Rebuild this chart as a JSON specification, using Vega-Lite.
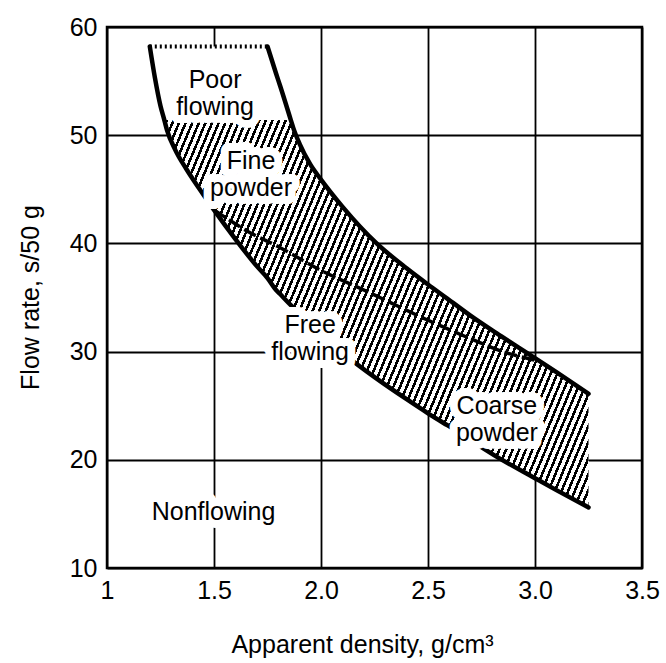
{
  "$schema": "https://vega.github.io/schema/vega-lite/v6.json",
  "width": 535,
  "height": 541,
  "autosize": "none",
  "padding": {"left": 107, "top": 27, "right": 24, "bottom": 95},
  "background": "white",
  "config": {
    "view": {"stroke": "black", "strokeWidth": 2.5},
    "font": "Liberation Sans"
  },
  "datasets": {
    "band": [
      {"x": 1.2, "lo": 58.2, "hi": 58.2, "hh": 58.2},
      {"x": 1.224, "lo": 55.3, "hi": 58.2, "hh": 55.3},
      {"x": 1.25, "lo": 52.7, "hi": 58.2, "hh": 52.7},
      {"x": 1.268, "lo": 51.4, "hi": 58.2, "hh": 51.4},
      {"x": 1.28, "lo": 50.5, "hi": 58.2, "hh": 51.4},
      {"x": 1.32, "lo": 48.6, "hi": 58.2, "hh": 51.4},
      {"x": 1.37, "lo": 46.9, "hi": 58.2, "hh": 51.4},
      {"x": 1.43, "lo": 45.1, "hi": 58.2, "hh": 51.4},
      {"x": 1.5, "lo": 43.1, "hi": 58.2, "hh": 51.4},
      {"x": 1.6, "lo": 40.4, "hi": 58.2, "hh": 51.4},
      {"x": 1.7, "lo": 37.9, "hi": 58.2, "hh": 51.4},
      {"x": 1.75, "lo": 36.8, "hi": 58.2, "hh": 51.4},
      {"x": 1.79, "lo": 35.7, "hi": 55.7, "hh": 51.4},
      {"x": 1.81, "lo": 35.3, "hi": 54.5, "hh": 51.4},
      {"x": 1.859, "lo": 34.3, "hi": 51.4, "hh": 51.4},
      {"x": 1.87, "lo": 34.1, "hi": 50.7, "hh": 50.7},
      {"x": 1.9, "lo": 33.5, "hi": 49.2, "hh": 49.2},
      {"x": 1.95, "lo": 32.5, "hi": 47.3, "hh": 47.3},
      {"x": 2.0, "lo": 31.6, "hi": 45.9, "hh": 45.9},
      {"x": 2.1, "lo": 29.9, "hi": 43.4, "hh": 43.4},
      {"x": 2.26, "lo": 27.5, "hi": 40.0, "hh": 40.0},
      {"x": 2.4, "lo": 25.6, "hi": 37.7, "hh": 37.7},
      {"x": 2.5, "lo": 24.3, "hi": 36.2, "hh": 36.2},
      {"x": 2.59, "lo": 23.2, "hi": 34.9, "hh": 34.9},
      {"x": 2.7, "lo": 21.8, "hi": 33.3, "hh": 33.3},
      {"x": 2.82, "lo": 20.3, "hi": 31.7, "hh": 31.7},
      {"x": 3.0, "lo": 18.3, "hi": 29.4, "hh": 29.4},
      {"x": 3.1, "lo": 17.2, "hi": 28.1, "hh": 28.1},
      {"x": 3.25, "lo": 15.6, "hi": 26.1, "hh": 26.1}
    ],
    "divider": [
      {"x": 1.5, "y": 43.1},
      {"x": 1.65, "y": 41.2},
      {"x": 1.81, "y": 39.6},
      {"x": 2.0, "y": 37.5},
      {"x": 2.21, "y": 35.6},
      {"x": 2.5, "y": 32.9},
      {"x": 2.71, "y": 31.1},
      {"x": 2.85, "y": 30.0},
      {"x": 3.0, "y": 29.2}
    ],
    "labels": [
      {"x": 1.505, "y": 55.1, "label": "Poor\nflowing"},
      {"x": 1.673, "y": 47.6, "label": "Fine\npowder"},
      {"x": 1.949, "y": 32.5, "label": "Free\nflowing"},
      {"x": 2.822, "y": 25.0, "label": "Coarse\npowder"},
      {"x": 1.498, "y": 15.2, "label": "Nonflowing"}
    ]
  },
  "layer": [
    {
      "data": {"name": "band"},
      "mark": {"type": "area", "fill": "white", "interpolate": "monotone"},
      "encoding": {
        "x": {
          "field": "x", "type": "quantitative", "title": "Apparent density, g/cm³",
          "scale": {"domain": [1, 3.5], "nice": false, "zero": false},
          "axis": {
            "values": [1, 1.5, 2, 2.5, 3, 3.5],
            "labelExpr": "datum.value == 1 ? '1' : format(datum.value, '.1f')",
            "grid": true, "gridColor": "black", "gridWidth": 1.8, "gridOpacity": 1,
            "ticks": false, "domain": false, "labelFlush": false, "labelOverlap": false, "labelBound": false,
            "labelPadding": 10, "labelFontSize": 25, "labelColor": "black", "labelFont": "Liberation Sans",
            "titleFontSize": 25, "titleFontWeight": "normal", "titleColor": "black", "titleFont": "Liberation Sans",
            "titleX": 255, "titleY": 76, "titleBaseline": "middle", "titleAlign": "center"
          }
        },
        "y": {
          "field": "lo", "type": "quantitative", "title": "Flow rate, s/50 g",
          "scale": {"domain": [10, 60], "nice": false, "zero": false},
          "axis": {
            "values": [10, 20, 30, 40, 50, 60],
            "grid": true, "gridColor": "black", "gridWidth": 1.8, "gridOpacity": 1,
            "ticks": false, "domain": false, "labelFlush": false, "labelOverlap": false, "labelBound": false,
            "labelPadding": 10, "labelFontSize": 25, "labelColor": "black", "labelFont": "Liberation Sans",
            "titleFontSize": 25, "titleFontWeight": "normal", "titleColor": "black", "titleFont": "Liberation Sans",
            "titleX": -77, "titleY": 270, "titleBaseline": "middle", "titleAlign": "center", "titleAngle": -90
          }
        },
        "y2": {"field": "hi"}
      }
    },
    {
      "data": {"name": "band"},
      "mark": {
        "type": "area", "interpolate": "monotone",
        "fill": {
          "gradient": "linear", "x1": 0, "y1": 0, "x2": 1.266, "y2": 0.55,
          "stops": [
{"offset":0,"color":"#000"},{"offset":0.0042,"color":"#000"},{"offset":0.0042,"color":"#fff"},{"offset":0.01,"color":"#fff"},
{"offset":0.01,"color":"#000"},{"offset":0.0142,"color":"#000"},{"offset":0.0142,"color":"#fff"},{"offset":0.02,"color":"#fff"},
{"offset":0.02,"color":"#000"},{"offset":0.0242,"color":"#000"},{"offset":0.0242,"color":"#fff"},{"offset":0.03,"color":"#fff"},
{"offset":0.03,"color":"#000"},{"offset":0.0342,"color":"#000"},{"offset":0.0342,"color":"#fff"},{"offset":0.04,"color":"#fff"},
{"offset":0.04,"color":"#000"},{"offset":0.0442,"color":"#000"},{"offset":0.0442,"color":"#fff"},{"offset":0.05,"color":"#fff"},
{"offset":0.05,"color":"#000"},{"offset":0.0542,"color":"#000"},{"offset":0.0542,"color":"#fff"},{"offset":0.06,"color":"#fff"},
{"offset":0.06,"color":"#000"},{"offset":0.0642,"color":"#000"},{"offset":0.0642,"color":"#fff"},{"offset":0.07,"color":"#fff"},
{"offset":0.07,"color":"#000"},{"offset":0.0742,"color":"#000"},{"offset":0.0742,"color":"#fff"},{"offset":0.08,"color":"#fff"},
{"offset":0.08,"color":"#000"},{"offset":0.0842,"color":"#000"},{"offset":0.0842,"color":"#fff"},{"offset":0.09,"color":"#fff"},
{"offset":0.09,"color":"#000"},{"offset":0.0942,"color":"#000"},{"offset":0.0942,"color":"#fff"},{"offset":0.10,"color":"#fff"},
{"offset":0.10,"color":"#000"},{"offset":0.1042,"color":"#000"},{"offset":0.1042,"color":"#fff"},{"offset":0.11,"color":"#fff"},
{"offset":0.11,"color":"#000"},{"offset":0.1142,"color":"#000"},{"offset":0.1142,"color":"#fff"},{"offset":0.12,"color":"#fff"},
{"offset":0.12,"color":"#000"},{"offset":0.1242,"color":"#000"},{"offset":0.1242,"color":"#fff"},{"offset":0.13,"color":"#fff"},
{"offset":0.13,"color":"#000"},{"offset":0.1342,"color":"#000"},{"offset":0.1342,"color":"#fff"},{"offset":0.14,"color":"#fff"},
{"offset":0.14,"color":"#000"},{"offset":0.1442,"color":"#000"},{"offset":0.1442,"color":"#fff"},{"offset":0.15,"color":"#fff"},
{"offset":0.15,"color":"#000"},{"offset":0.1542,"color":"#000"},{"offset":0.1542,"color":"#fff"},{"offset":0.16,"color":"#fff"},
{"offset":0.16,"color":"#000"},{"offset":0.1642,"color":"#000"},{"offset":0.1642,"color":"#fff"},{"offset":0.17,"color":"#fff"},
{"offset":0.17,"color":"#000"},{"offset":0.1742,"color":"#000"},{"offset":0.1742,"color":"#fff"},{"offset":0.18,"color":"#fff"},
{"offset":0.18,"color":"#000"},{"offset":0.1842,"color":"#000"},{"offset":0.1842,"color":"#fff"},{"offset":0.19,"color":"#fff"},
{"offset":0.19,"color":"#000"},{"offset":0.1942,"color":"#000"},{"offset":0.1942,"color":"#fff"},{"offset":0.20,"color":"#fff"},
{"offset":0.20,"color":"#000"},{"offset":0.2042,"color":"#000"},{"offset":0.2042,"color":"#fff"},{"offset":0.21,"color":"#fff"},
{"offset":0.21,"color":"#000"},{"offset":0.2142,"color":"#000"},{"offset":0.2142,"color":"#fff"},{"offset":0.22,"color":"#fff"},
{"offset":0.22,"color":"#000"},{"offset":0.2242,"color":"#000"},{"offset":0.2242,"color":"#fff"},{"offset":0.23,"color":"#fff"},
{"offset":0.23,"color":"#000"},{"offset":0.2342,"color":"#000"},{"offset":0.2342,"color":"#fff"},{"offset":0.24,"color":"#fff"},
{"offset":0.24,"color":"#000"},{"offset":0.2442,"color":"#000"},{"offset":0.2442,"color":"#fff"},{"offset":0.25,"color":"#fff"},
{"offset":0.25,"color":"#000"},{"offset":0.2542,"color":"#000"},{"offset":0.2542,"color":"#fff"},{"offset":0.26,"color":"#fff"},
{"offset":0.26,"color":"#000"},{"offset":0.2642,"color":"#000"},{"offset":0.2642,"color":"#fff"},{"offset":0.27,"color":"#fff"},
{"offset":0.27,"color":"#000"},{"offset":0.2742,"color":"#000"},{"offset":0.2742,"color":"#fff"},{"offset":0.28,"color":"#fff"},
{"offset":0.28,"color":"#000"},{"offset":0.2842,"color":"#000"},{"offset":0.2842,"color":"#fff"},{"offset":0.29,"color":"#fff"},
{"offset":0.29,"color":"#000"},{"offset":0.2942,"color":"#000"},{"offset":0.2942,"color":"#fff"},{"offset":0.30,"color":"#fff"},
{"offset":0.30,"color":"#000"},{"offset":0.3042,"color":"#000"},{"offset":0.3042,"color":"#fff"},{"offset":0.31,"color":"#fff"},
{"offset":0.31,"color":"#000"},{"offset":0.3142,"color":"#000"},{"offset":0.3142,"color":"#fff"},{"offset":0.32,"color":"#fff"},
{"offset":0.32,"color":"#000"},{"offset":0.3242,"color":"#000"},{"offset":0.3242,"color":"#fff"},{"offset":0.33,"color":"#fff"},
{"offset":0.33,"color":"#000"},{"offset":0.3342,"color":"#000"},{"offset":0.3342,"color":"#fff"},{"offset":0.34,"color":"#fff"},
{"offset":0.34,"color":"#000"},{"offset":0.3442,"color":"#000"},{"offset":0.3442,"color":"#fff"},{"offset":0.35,"color":"#fff"},
{"offset":0.35,"color":"#000"},{"offset":0.3542,"color":"#000"},{"offset":0.3542,"color":"#fff"},{"offset":0.36,"color":"#fff"},
{"offset":0.36,"color":"#000"},{"offset":0.3642,"color":"#000"},{"offset":0.3642,"color":"#fff"},{"offset":0.37,"color":"#fff"},
{"offset":0.37,"color":"#000"},{"offset":0.3742,"color":"#000"},{"offset":0.3742,"color":"#fff"},{"offset":0.38,"color":"#fff"},
{"offset":0.38,"color":"#000"},{"offset":0.3842,"color":"#000"},{"offset":0.3842,"color":"#fff"},{"offset":0.39,"color":"#fff"},
{"offset":0.39,"color":"#000"},{"offset":0.3942,"color":"#000"},{"offset":0.3942,"color":"#fff"},{"offset":0.40,"color":"#fff"},
{"offset":0.40,"color":"#000"},{"offset":0.4042,"color":"#000"},{"offset":0.4042,"color":"#fff"},{"offset":0.41,"color":"#fff"},
{"offset":0.41,"color":"#000"},{"offset":0.4142,"color":"#000"},{"offset":0.4142,"color":"#fff"},{"offset":0.42,"color":"#fff"},
{"offset":0.42,"color":"#000"},{"offset":0.4242,"color":"#000"},{"offset":0.4242,"color":"#fff"},{"offset":0.43,"color":"#fff"},
{"offset":0.43,"color":"#000"},{"offset":0.4342,"color":"#000"},{"offset":0.4342,"color":"#fff"},{"offset":0.44,"color":"#fff"},
{"offset":0.44,"color":"#000"},{"offset":0.4442,"color":"#000"},{"offset":0.4442,"color":"#fff"},{"offset":0.45,"color":"#fff"},
{"offset":0.45,"color":"#000"},{"offset":0.4542,"color":"#000"},{"offset":0.4542,"color":"#fff"},{"offset":0.46,"color":"#fff"},
{"offset":0.46,"color":"#000"},{"offset":0.4642,"color":"#000"},{"offset":0.4642,"color":"#fff"},{"offset":0.47,"color":"#fff"},
{"offset":0.47,"color":"#000"},{"offset":0.4742,"color":"#000"},{"offset":0.4742,"color":"#fff"},{"offset":0.48,"color":"#fff"},
{"offset":0.48,"color":"#000"},{"offset":0.4842,"color":"#000"},{"offset":0.4842,"color":"#fff"},{"offset":0.49,"color":"#fff"},
{"offset":0.49,"color":"#000"},{"offset":0.4942,"color":"#000"},{"offset":0.4942,"color":"#fff"},{"offset":0.50,"color":"#fff"},
{"offset":0.50,"color":"#000"},{"offset":0.5042,"color":"#000"},{"offset":0.5042,"color":"#fff"},{"offset":0.51,"color":"#fff"},
{"offset":0.51,"color":"#000"},{"offset":0.5142,"color":"#000"},{"offset":0.5142,"color":"#fff"},{"offset":0.52,"color":"#fff"},
{"offset":0.52,"color":"#000"},{"offset":0.5242,"color":"#000"},{"offset":0.5242,"color":"#fff"},{"offset":0.53,"color":"#fff"},
{"offset":0.53,"color":"#000"},{"offset":0.5342,"color":"#000"},{"offset":0.5342,"color":"#fff"},{"offset":0.54,"color":"#fff"},
{"offset":0.54,"color":"#000"},{"offset":0.5442,"color":"#000"},{"offset":0.5442,"color":"#fff"},{"offset":0.55,"color":"#fff"},
{"offset":0.55,"color":"#000"},{"offset":0.5542,"color":"#000"},{"offset":0.5542,"color":"#fff"},{"offset":0.56,"color":"#fff"},
{"offset":0.56,"color":"#000"},{"offset":0.5642,"color":"#000"},{"offset":0.5642,"color":"#fff"},{"offset":0.57,"color":"#fff"},
{"offset":0.57,"color":"#000"},{"offset":0.5742,"color":"#000"},{"offset":0.5742,"color":"#fff"},{"offset":0.58,"color":"#fff"},
{"offset":0.58,"color":"#000"},{"offset":0.5842,"color":"#000"},{"offset":0.5842,"color":"#fff"},{"offset":0.59,"color":"#fff"},
{"offset":0.59,"color":"#000"},{"offset":0.5942,"color":"#000"},{"offset":0.5942,"color":"#fff"},{"offset":0.60,"color":"#fff"},
{"offset":0.60,"color":"#000"},{"offset":0.6042,"color":"#000"},{"offset":0.6042,"color":"#fff"},{"offset":0.61,"color":"#fff"},
{"offset":0.61,"color":"#000"},{"offset":0.6142,"color":"#000"},{"offset":0.6142,"color":"#fff"},{"offset":0.62,"color":"#fff"},
{"offset":0.62,"color":"#000"},{"offset":0.6242,"color":"#000"},{"offset":0.6242,"color":"#fff"},{"offset":0.63,"color":"#fff"},
{"offset":0.63,"color":"#000"},{"offset":0.6342,"color":"#000"},{"offset":0.6342,"color":"#fff"},{"offset":0.64,"color":"#fff"},
{"offset":0.64,"color":"#000"},{"offset":0.6442,"color":"#000"},{"offset":0.6442,"color":"#fff"},{"offset":0.65,"color":"#fff"},
{"offset":0.65,"color":"#000"},{"offset":0.6542,"color":"#000"},{"offset":0.6542,"color":"#fff"},{"offset":0.66,"color":"#fff"},
{"offset":0.66,"color":"#000"},{"offset":0.6642,"color":"#000"},{"offset":0.6642,"color":"#fff"},{"offset":0.67,"color":"#fff"},
{"offset":0.67,"color":"#000"},{"offset":0.6742,"color":"#000"},{"offset":0.6742,"color":"#fff"},{"offset":0.68,"color":"#fff"},
{"offset":0.68,"color":"#000"},{"offset":0.6842,"color":"#000"},{"offset":0.6842,"color":"#fff"},{"offset":0.69,"color":"#fff"},
{"offset":0.69,"color":"#000"},{"offset":0.6942,"color":"#000"},{"offset":0.6942,"color":"#fff"},{"offset":0.70,"color":"#fff"},
{"offset":0.70,"color":"#000"},{"offset":0.7042,"color":"#000"},{"offset":0.7042,"color":"#fff"},{"offset":0.71,"color":"#fff"},
{"offset":0.71,"color":"#000"},{"offset":0.7142,"color":"#000"},{"offset":0.7142,"color":"#fff"},{"offset":0.72,"color":"#fff"},
{"offset":0.72,"color":"#000"},{"offset":0.7242,"color":"#000"},{"offset":0.7242,"color":"#fff"},{"offset":0.73,"color":"#fff"},
{"offset":0.73,"color":"#000"},{"offset":0.7342,"color":"#000"},{"offset":0.7342,"color":"#fff"},{"offset":0.74,"color":"#fff"},
{"offset":0.74,"color":"#000"},{"offset":0.7442,"color":"#000"},{"offset":0.7442,"color":"#fff"},{"offset":0.75,"color":"#fff"},
{"offset":0.75,"color":"#000"},{"offset":0.7542,"color":"#000"},{"offset":0.7542,"color":"#fff"},{"offset":0.76,"color":"#fff"},
{"offset":0.76,"color":"#000"},{"offset":0.7642,"color":"#000"},{"offset":0.7642,"color":"#fff"},{"offset":0.77,"color":"#fff"},
{"offset":0.77,"color":"#000"},{"offset":0.7742,"color":"#000"},{"offset":0.7742,"color":"#fff"},{"offset":0.78,"color":"#fff"},
{"offset":0.78,"color":"#000"},{"offset":0.7842,"color":"#000"},{"offset":0.7842,"color":"#fff"},{"offset":0.79,"color":"#fff"},
{"offset":0.79,"color":"#000"},{"offset":0.7942,"color":"#000"},{"offset":0.7942,"color":"#fff"},{"offset":0.80,"color":"#fff"},
{"offset":0.80,"color":"#000"},{"offset":0.8042,"color":"#000"},{"offset":0.8042,"color":"#fff"},{"offset":0.81,"color":"#fff"},
{"offset":0.81,"color":"#000"},{"offset":0.8142,"color":"#000"},{"offset":0.8142,"color":"#fff"},{"offset":0.82,"color":"#fff"},
{"offset":0.82,"color":"#000"},{"offset":0.8242,"color":"#000"},{"offset":0.8242,"color":"#fff"},{"offset":0.83,"color":"#fff"},
{"offset":0.83,"color":"#000"},{"offset":0.8342,"color":"#000"},{"offset":0.8342,"color":"#fff"},{"offset":0.84,"color":"#fff"},
{"offset":0.84,"color":"#000"},{"offset":0.8442,"color":"#000"},{"offset":0.8442,"color":"#fff"},{"offset":0.85,"color":"#fff"},
{"offset":0.85,"color":"#000"},{"offset":0.8542,"color":"#000"},{"offset":0.8542,"color":"#fff"},{"offset":0.86,"color":"#fff"},
{"offset":0.86,"color":"#000"},{"offset":0.8642,"color":"#000"},{"offset":0.8642,"color":"#fff"},{"offset":0.87,"color":"#fff"},
{"offset":0.87,"color":"#000"},{"offset":0.8742,"color":"#000"},{"offset":0.8742,"color":"#fff"},{"offset":0.88,"color":"#fff"},
{"offset":0.88,"color":"#000"},{"offset":0.8842,"color":"#000"},{"offset":0.8842,"color":"#fff"},{"offset":0.89,"color":"#fff"},
{"offset":0.89,"color":"#000"},{"offset":0.8942,"color":"#000"},{"offset":0.8942,"color":"#fff"},{"offset":0.90,"color":"#fff"},
{"offset":0.90,"color":"#000"},{"offset":0.9042,"color":"#000"},{"offset":0.9042,"color":"#fff"},{"offset":0.91,"color":"#fff"},
{"offset":0.91,"color":"#000"},{"offset":0.9142,"color":"#000"},{"offset":0.9142,"color":"#fff"},{"offset":0.92,"color":"#fff"},
{"offset":0.92,"color":"#000"},{"offset":0.9242,"color":"#000"},{"offset":0.9242,"color":"#fff"},{"offset":0.93,"color":"#fff"},
{"offset":0.93,"color":"#000"},{"offset":0.9342,"color":"#000"},{"offset":0.9342,"color":"#fff"},{"offset":0.94,"color":"#fff"},
{"offset":0.94,"color":"#000"},{"offset":0.9442,"color":"#000"},{"offset":0.9442,"color":"#fff"},{"offset":0.95,"color":"#fff"},
{"offset":0.95,"color":"#000"},{"offset":0.9542,"color":"#000"},{"offset":0.9542,"color":"#fff"},{"offset":0.96,"color":"#fff"},
{"offset":0.96,"color":"#000"},{"offset":0.9642,"color":"#000"},{"offset":0.9642,"color":"#fff"},{"offset":0.97,"color":"#fff"},
{"offset":0.97,"color":"#000"},{"offset":0.9742,"color":"#000"},{"offset":0.9742,"color":"#fff"},{"offset":0.98,"color":"#fff"},
{"offset":0.98,"color":"#000"},{"offset":0.9842,"color":"#000"},{"offset":0.9842,"color":"#fff"},{"offset":0.99,"color":"#fff"},
{"offset":0.99,"color":"#000"},{"offset":0.9942,"color":"#000"},{"offset":0.9942,"color":"#fff"},{"offset":1,"color":"#fff"}
          ]
        }
      },
      "encoding": {
        "x": {"field": "x", "type": "quantitative", "title": "Apparent density, g/cm³", "scale": {"domain": [1, 3.5], "nice": false, "zero": false}},
        "y": {"field": "lo", "type": "quantitative", "title": "Flow rate, s/50 g", "scale": {"domain": [10, 60], "nice": false, "zero": false}},
        "y2": {"field": "hh"}
      }
    },
    {
      "data": {"name": "band"},
      "mark": {"type": "line", "color": "black", "strokeWidth": 4.5, "interpolate": "monotone", "strokeCap": "round"},
      "encoding": {
        "x": {"field": "x", "type": "quantitative", "title": "Apparent density, g/cm³", "scale": {"domain": [1, 3.5], "nice": false, "zero": false}},
        "y": {"field": "lo", "type": "quantitative", "title": "Flow rate, s/50 g", "scale": {"domain": [10, 60], "nice": false, "zero": false}}
      }
    },
    {
      "data": {"name": "band"},
      "transform": [{"filter": "datum.x >= 1.75"}],
      "mark": {"type": "line", "color": "black", "strokeWidth": 4.5, "interpolate": "monotone", "strokeCap": "round"},
      "encoding": {
        "x": {"field": "x", "type": "quantitative", "title": "Apparent density, g/cm³", "scale": {"domain": [1, 3.5], "nice": false, "zero": false}},
        "y": {"field": "hi", "type": "quantitative", "title": "Flow rate, s/50 g", "scale": {"domain": [10, 60], "nice": false, "zero": false}}
      }
    },
    {
      "data": {"name": "band"},
      "transform": [{"filter": "datum.x <= 1.75"}],
      "mark": {"type": "line", "color": "black", "strokeWidth": 4, "strokeDash": [2, 3]},
      "encoding": {
        "x": {"field": "x", "type": "quantitative", "title": "Apparent density, g/cm³", "scale": {"domain": [1, 3.5], "nice": false, "zero": false}},
        "y": {"field": "hi", "type": "quantitative", "title": "Flow rate, s/50 g", "scale": {"domain": [10, 60], "nice": false, "zero": false}}
      }
    },
    {
      "data": {"name": "divider"},
      "mark": {"type": "line", "color": "black", "strokeWidth": 3.5, "strokeDash": [13, 5], "interpolate": "monotone"},
      "encoding": {
        "x": {"field": "x", "type": "quantitative", "title": "Apparent density, g/cm³", "scale": {"domain": [1, 3.5], "nice": false, "zero": false}},
        "y": {"field": "y", "type": "quantitative", "title": "Flow rate, s/50 g", "scale": {"domain": [10, 60], "nice": false, "zero": false}}
      }
    },
    {
      "data": {"name": "labels"},
      "mark": {"type": "text", "fontSize": 25, "font": "Liberation Sans", "align": "center", "baseline": "middle", "lineBreak": "\n", "lineHeight": 27, "fill": "white", "stroke": "white", "strokeWidth": 16, "strokeJoin": "round"},
      "encoding": {
        "x": {"field": "x", "type": "quantitative", "title": "Apparent density, g/cm³", "scale": {"domain": [1, 3.5], "nice": false, "zero": false}},
        "y": {"field": "y", "type": "quantitative", "title": "Flow rate, s/50 g", "scale": {"domain": [10, 60], "nice": false, "zero": false}},
        "text": {"field": "label"}
      }
    },
    {
      "data": {"name": "labels"},
      "mark": {"type": "text", "fontSize": 25, "font": "Liberation Sans", "align": "center", "baseline": "middle", "lineBreak": "\n", "lineHeight": 27, "color": "black"},
      "encoding": {
        "x": {"field": "x", "type": "quantitative", "title": "Apparent density, g/cm³", "scale": {"domain": [1, 3.5], "nice": false, "zero": false}},
        "y": {"field": "y", "type": "quantitative", "title": "Flow rate, s/50 g", "scale": {"domain": [10, 60], "nice": false, "zero": false}},
        "text": {"field": "label"}
      }
    }
  ]
}
